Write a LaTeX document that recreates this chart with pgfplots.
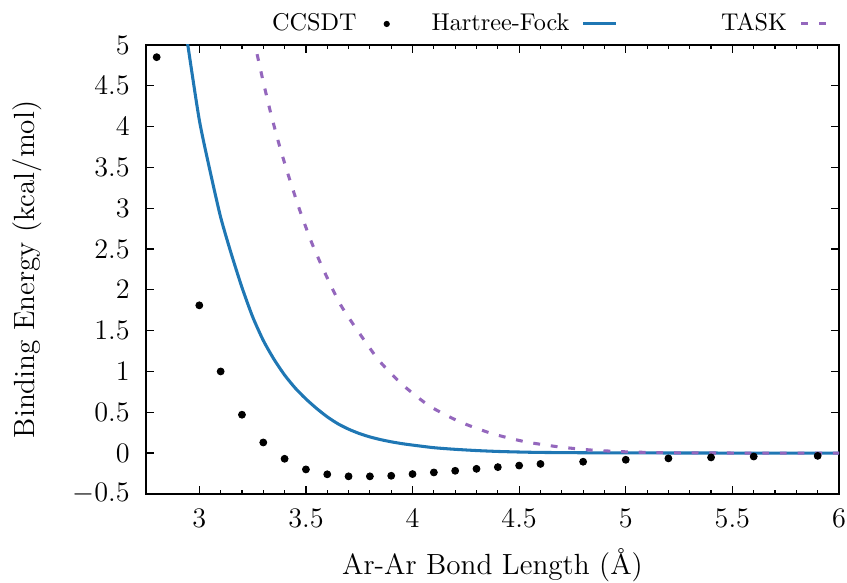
\documentclass[border=0pt]{standalone}
\usepackage{pgfplots}
\pgfplotsset{compat=1.18}
\definecolor{hfblue}{RGB}{31,119,180}
\definecolor{taskpurple}{RGB}{148,103,189}
\begin{document}
\begin{tikzpicture}
\path[use as bounding box] (-62.05pt,-37.8pt) rectangle (297.9pt,209.9pt);
\begin{axis}[
  at={(0,0)}, anchor=south west,
  scale only axis, width=294.5pt, height=190.8pt,
  xmin=2.75, xmax=6, ymin=-0.5, ymax=5,
  xtick={3,3.5,4,4.5,5,5.5,6},
  ytick={-0.5,0,0.5,1,1.5,2,2.5,3,3.5,4,4.5,5},
  yticklabels={$-0.5$,$0$,$0.5$,$1$,$1.5$,$2$,$2.5$,$3$,$3.5$,$4$,$4.5$,$5$},
  minor x tick num=4,
  tick align=inside,
  major tick length=3.5pt, minor tick length=1.8pt,
  tick style={black, line width=0.5pt},
  axis line style={black, line width=0.6pt},
  ticklabel style={font=\fontsize{12.4}{15}\selectfont},
  yticklabel style={xshift=-3.4pt},
  xticklabel style={yshift=-3pt},
  label style={font=\fontsize{12.4}{15}\selectfont},
  xlabel={Ar-Ar Bond Length (\AA)},
  ylabel={Binding Energy (kcal/mol)},
  xlabel style={at={(axis description cs:0.5,-0.158)}, anchor=center},
  ylabel style={at={(axis description cs:-0.1718,0.5)}, anchor=center},
  legend plot pos=right,
  legend columns=3,
  legend style={draw=none, fill=none, font=\fontsize{10.3}{12.4}\selectfont,
    inner sep=0pt, outer sep=0pt,
    nodes={inner sep=0pt},
    at={(axis description cs:0.9963,1.0467)}, anchor=east,
    /tikz/column 1/.style={column sep=6pt},
    /tikz/column 2/.style={column sep=11.7pt},
    /tikz/column 3/.style={column sep=5.1pt},
    /tikz/column 4/.style={column sep=43.8pt},
    /tikz/column 5/.style={column sep=5.5pt}},
]
\addplot[only marks, mark=*, mark size=1.45pt, black,
  legend image code/.code={\path[draw=none,fill=none] (0pt,-1pt) rectangle (14.2pt,1pt); \fill[black] (6.8pt,0pt) circle (1.1pt);}] coordinates {
(2.8,4.85) (3.0,1.81) (3.1,1.00) (3.2,0.47) (3.3,0.13) (3.4,-0.07)
(3.5,-0.20) (3.6,-0.26) (3.7,-0.285) (3.8,-0.285) (3.9,-0.278) (4.0,-0.257)
(4.1,-0.237) (4.2,-0.217) (4.3,-0.193) (4.4,-0.172) (4.5,-0.153) (4.6,-0.133)
(4.8,-0.106) (5.0,-0.082) (5.2,-0.065) (5.4,-0.053) (5.6,-0.042) (5.9,-0.034)
};
\addlegendentry{CCSDT}
\addplot[hfblue, line width=1.3pt, smooth, tension=0.4,
  legend image code/.code={\draw[hfblue, line width=1.3pt] (0pt,0pt) -- (14.2pt,0pt);}] coordinates {
(2.935,5.2) (2.946,5.0) (3.0,4.08) (3.05,3.46) (3.1,2.89) (3.15,2.44) (3.2,2.03)
(3.25,1.67) (3.3,1.38) (3.35,1.15) (3.4,0.956) (3.45,0.796) (3.5,0.663)
(3.55,0.547) (3.6,0.444) (3.65,0.359) (3.7,0.293) (3.75,0.240) (3.8,0.198)
(3.85,0.165) (3.9,0.138) (3.95,0.116) (4.0,0.098) (4.1,0.066) (4.2,0.046)
(4.3,0.031) (4.4,0.020) (4.5,0.013) (4.6,0.008) (4.8,0.004)
(5.0,0.002) (5.5,0.0005) (6.0,0.0)
};
\addlegendentry{Hartree-Fock}
\addplot[taskpurple, line width=1.3pt, dash pattern=on 2.9pt off 4.6pt, smooth, tension=0.4,
  legend image code/.code={\draw[taskpurple, line width=1.3pt, dash pattern=on 2.9pt off 4.6pt] (0pt,0pt) -- (14.2pt,0pt);}] coordinates {
(3.257,5.1) (3.265,4.96) (3.299,4.559) (3.336,4.154) (3.378,3.746) (3.424,3.35)
(3.474,2.953) (3.529,2.565) (3.593,2.185) (3.663,1.814) (3.751,1.467)
(3.845,1.127) (3.955,0.833) (4.08,0.576) (4.221,0.384) (4.37,0.241)
(4.526,0.14) (4.683,0.077) (4.839,0.037) (4.995,0.016) (5.15,0.006)
(5.4,0.001) (6.0,0.0)
};
\addlegendentry{TASK}
\end{axis}
\end{tikzpicture}
\end{document}
